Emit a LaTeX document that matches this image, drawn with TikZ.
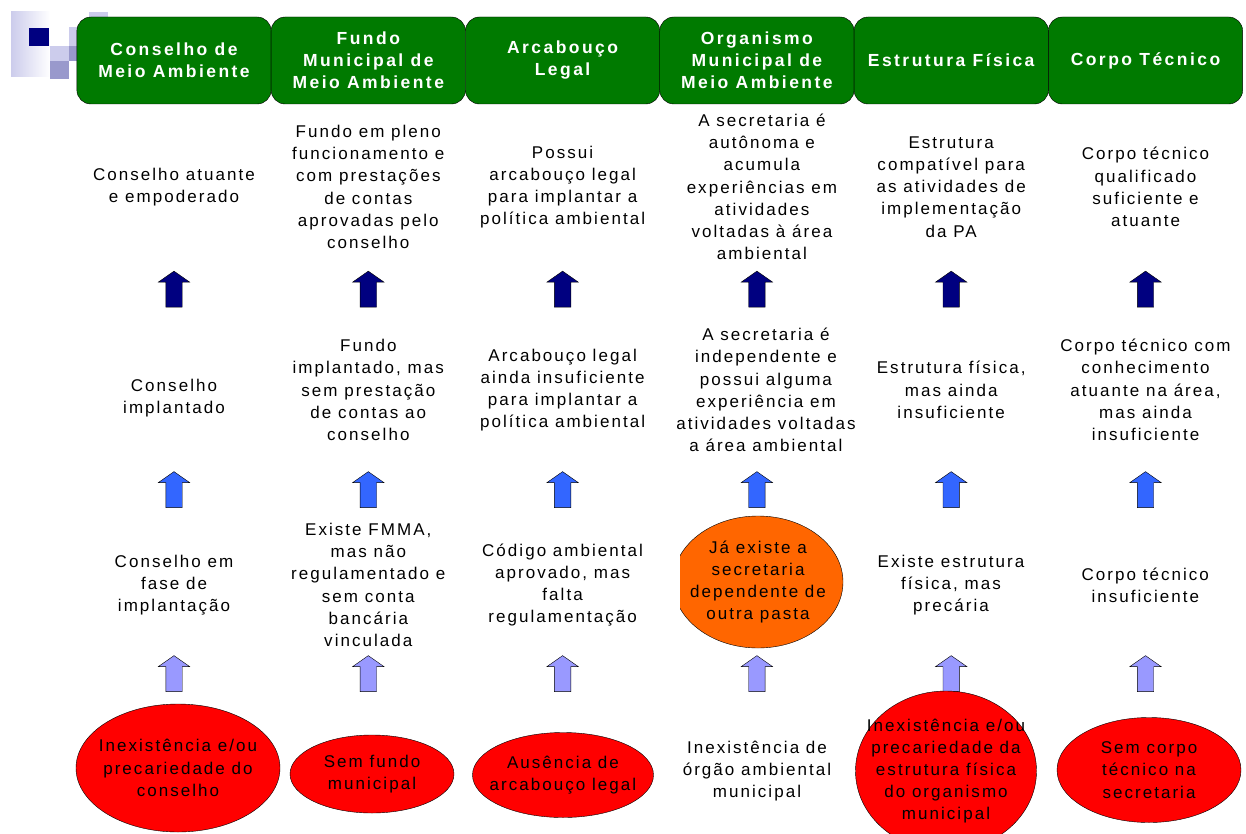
\documentclass[tikz,border=0pt]{standalone}
\usepackage{fontspec}
\usepackage{xcolor}
\usetikzlibrary{shapes.geometric,shapes.arrows}
\newfontfamily\bodyfont{Liberation Sans}[LetterSpace=12]
\newfontfamily\headfont{Liberation Sans}[LetterSpace=14]
\definecolor{headgreen}{RGB}{0,122,0}
\definecolor{darkup}{RGB}{0,0,128}
\definecolor{midup}{RGB}{51,102,255}
\definecolor{lightup}{RGB}{153,153,255}
\definecolor{redfill}{RGB}{255,0,0}
\definecolor{orangefill}{RGB}{255,102,0}
\definecolor{logolight}{RGB}{204,204,236}
\definecolor{logomid}{RGB}{153,153,204}

\begin{document}
\begin{tikzpicture}[x=1pt, y=1pt, node distance=194.3pt,
	head/.style={draw=black, fill=headgreen, rounded corners=14pt, minimum width=194.3pt, minimum height=87pt, inner sep=0pt, text=white, align=center, font=\headfont\bfseries\fontsize{17.5}{22}\selectfont},
	txt/.style={align=center, inner sep=0pt, font=\bodyfont\fontsize{17}{22.2}\selectfont},
	oval/.style={ellipse, draw=black, inner sep=-30pt, align=center, font=\bodyfont\fontsize{17}{22.2}\selectfont},
	up/.style={single arrow, shape border rotate=90, draw=black, inner sep=8pt, minimum height=36pt, minimum width=31pt, single arrow head extend=7.5pt, single arrow tip angle=110}]
			\useasboundingbox (0,0) rectangle (1246,-834);

			% logo
			\shade[left color=logolight, right color=white] (11,-12) rectangle (50,-77);
			\fill[darkup] (29,-28) rectangle (49,-46);
			\fill[logolight] (50,-46) rectangle (69,-61);
			\fill[logomid] (50,-61) rectangle (69,-79);
			\fill[logolight] (69,-27) rectangle (78,-46);
			\fill[logomid] (69,-46) rectangle (78,-61);
			\fill[logolight] (89,-12) rectangle (108,-18);

			% headers
			\node[head] (1) at (174,-60.5) {Conselho de\\Meio Ambiente};
			\node[head] (2)[right of = 1] {Fundo\\Municipal de\\Meio Ambiente};
			\node[head] (3)[right of = 2] {Arcabouço\\Legal};
			\node[head] (4)[right of = 3] {Organismo\\Municipal de\\Meio Ambiente};
			\node[head] (5)[right of = 4] {Estrutura Física};
			\node[head] (6)[right of = 5] {Corpo Técnico};

			% first level
			\node[txt] (1a) at (174,-187) {Conselho atuante\\e empoderado};
			\node[txt] (2a)[right of = 1a] {Fundo em pleno\\funcionamento e\\com prestações\\de contas\\aprovadas pelo\\conselho};
			\node[txt] (3a)[right of = 2a] {Possui\\arcabouço legal\\para implantar a\\política ambiental};
			\node[txt] (4a)[right of = 3a, xshift=5pt] {A secretaria é\\autônoma e\\acumula\\experiências em\\atividades\\voltadas à área\\ambiental};
			\node[txt] (5a)[right of = 4a, xshift=-5pt] {Estrutura\\compatível para\\as atividades de\\implementação\\da PA};
			\node[txt] (6a)[right of = 5a] {Corpo técnico\\qualificado\\suficiente e\\atuante};

			\node[up, fill=darkup] (1x) at (174,-292) {};
			\node[up, fill=darkup] (2x)[right of = 1x] {};
			\node[up, fill=darkup] (3x)[right of = 2x] {};
			\node[up, fill=darkup] (4x)[right of = 3x] {};
			\node[up, fill=darkup] (5x)[right of = 4x] {};
			\node[up, fill=darkup] (6x)[right of = 5x] {};

			% second level
			\node[txt] (1b) at (174,-398) {Conselho\\implantado};
			\node[txt] (2b)[right of = 1b, yshift=8pt] {Fundo\\implantado, mas\\sem prestação\\de contas ao\\conselho};
			\node[txt] (3b)[right of = 2b] {Arcabouço legal\\ainda insuficiente\\para implantar a\\política ambiental};
			\node[txt] (4b)[right of = 3b, xshift=9pt] {A secretaria é\\independente e\\possui alguma\\experiência em\\atividades voltadas\\a área ambiental};
			\node[txt] (5b)[right of = 4b, xshift=-9pt] {Estrutura física,\\mas ainda\\insuficiente};
			\node[txt] (6b)[right of = 5b] {Corpo técnico com\\conhecimento\\atuante na área,\\mas ainda\\insuficiente};

			\node[up, fill=midup] (1y) at (174,-492.5) {};
			\node[up, fill=midup] (2y)[right of = 1y] {};
			\node[up, fill=midup] (3y)[right of = 2y] {};
			\node[up, fill=midup] (4y)[right of = 3y] {};
			\node[up, fill=midup] (5y)[right of = 4y] {};
			\node[up, fill=midup] (6y)[right of = 5y] {};

			% third level
			\node[txt] (1c) at (174,-585) {Conselho em\\fase de\\implantação};
			\node[txt] (2c)[right of = 1c] {Existe FMMA,\\mas não\\regulamentado e\\sem conta\\bancária\\vinculada};
			\node[txt] (3c)[right of = 2c] {Código ambiental\\aprovado, mas\\falta\\regulamentação};
			\begin{scope}
				\clip (680,-500) rectangle (900,-670);
				\node[oval, fill=orangefill, minimum width=170pt, minimum height=132pt] (4c) at (758,-582) {Já existe a\\secretaria\\dependente de\\outra pasta};
			\end{scope}
			\node[txt] (5c) at (951,-585) {Existe estrutura\\física, mas\\precária};
			\node[txt] (6c)[right of = 5c] {Corpo técnico\\insuficiente};

			\node[up, fill=lightup] (1z) at (174,-676.5) {};
			\node[up, fill=lightup] (2z)[right of = 1z] {};
			\node[up, fill=lightup] (3z)[right of = 2z] {};
			\node[up, fill=lightup] (4z)[right of = 3z] {};
			\node[up, fill=lightup] (5z)[right of = 4z] {};
			\node[up, fill=lightup] (6z)[right of = 5z] {};

			% bottom level
			\node[oval, fill=redfill, minimum width=204pt, minimum height=128pt] (1d) at (178,-768) {Inexistência e/ou\\precariedade do\\conselho};
			\node[oval, fill=redfill, minimum width=164pt, minimum height=78pt] (2d) at (372,-774) {Sem fundo\\municipal};
			\node[oval, fill=redfill, minimum width=181pt, minimum height=85pt] (3d) at (563,-775) {Ausência de\\arcabouço legal};
			\node[txt] (4d) at (757,-771) {Inexistência de\\órgão ambiental\\municipal};
			\node[oval, fill=redfill, minimum width=181pt, minimum height=160pt] (5d) at (946,-771) {Inexistência e/ou\\precariedade da\\estrutura física\\do organismo\\municipal};
			\node[oval, fill=redfill, minimum width=184pt, minimum height=105pt] (6d) at (1149,-770) {Sem corpo\\técnico na\\secretaria};
		\end{tikzpicture}
\end{document}
